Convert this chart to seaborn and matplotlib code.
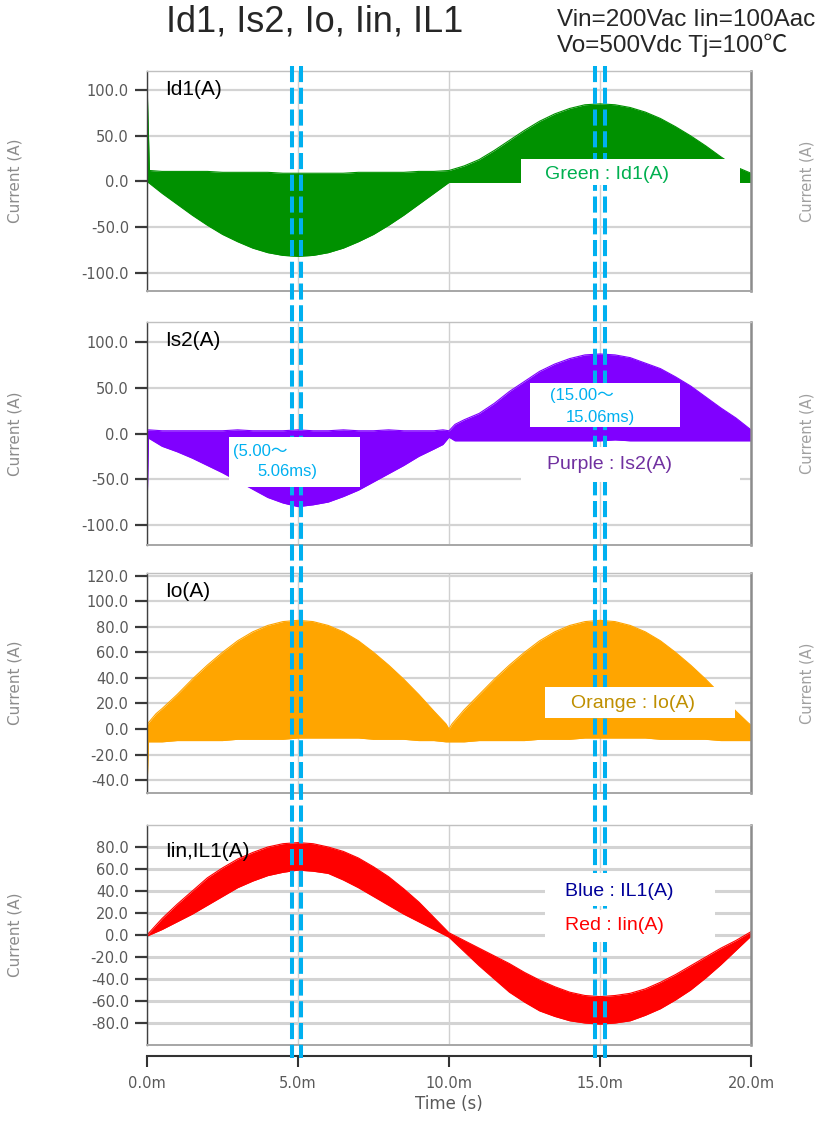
import matplotlib
matplotlib.use("Agg")
import matplotlib.pyplot as plt
import matplotlib.ticker as mticker
from matplotlib.lines import Line2D
from matplotlib.patches import Rectangle
from matplotlib.transforms import blended_transform_factory
import pandas as pd
import seaborn as sns

# Envelopes of the switching waveforms (ms, A) ----
ID1_T = [0, 0.08, 0.5, 1, 1.5, 2, 2.5, 3, 3.5, 4, 4.5, 5, 5.5, 6, 6.5, 7, 7.5, 8, 8.5, 9, 9.5,
         10, 10.5, 11, 11.5, 12, 12.5, 13, 13.5, 14, 14.5, 15, 15.5, 16, 16.5, 17, 17.5, 18,
         18.5, 19, 19.5, 20]
ID1_HI = [110, 12, 11, 11, 11, 11, 10, 10, 10, 10, 9, 9, 9, 9, 9, 10, 10, 10, 10, 11, 11,
          12, 17, 24, 34, 45, 56, 66, 74, 80, 84, 85, 84, 81, 76, 69, 60, 50, 39, 27, 16, 9]
ID1_LO = [0, -2, -13, -25, -37, -48, -58, -66, -73, -78, -81, -82, -81, -78, -73, -66, -58,
          -48, -37, -25, -13, -1, -1, -1, -1, -1, -1, -1, -1, -1, -1, -1, -1, -1, -1, -1, -1,
          -1, -1, -1, -1, -1]

IS2_T = [0, 0.05, 0.5, 1, 1.5, 2, 2.5, 3, 3.5, 4, 4.5, 5, 5.5, 6, 6.5, 7, 7.5, 8, 8.5, 9, 9.5,
         9.8, 10, 10.2, 10.5, 11, 11.5, 12, 12.5, 13, 13.5, 14, 14.5, 15, 15.5, 16, 16.5, 17,
         17.5, 18, 18.5, 19, 19.5, 20]
IS2_HI = [3, 4, 3, 3, 3, 3, 3, 4, 3, 3, 3, 4, 3, 3, 4, 3, 3, 4, 3, 3, 3,
          4, 3, 10, 15, 22, 33, 46, 57, 68, 76, 82, 86, 87, 86, 83, 77, 71, 62, 52, 40, 28, 17, 4]
IS2_LO = [-88, -5, -14, -20, -27, -35, -43, -52, -61, -70, -76, -80, -78, -75, -69, -62, -53,
          -44, -35, -25, -17, -12, -4, -8, -8, -8, -8, -8, -8, -8, -8, -8, -8, -8, -7, -8, -8,
          -8, -8, -8, -8, -8, -8, -8]

IO_T = [0, 0.05, 0.3, 0.5, 1, 1.5, 2, 2.5, 3, 3.5, 4, 4.5, 5, 5.5, 6, 6.5, 7, 7.5, 8, 8.5, 9,
        9.5, 9.9, 10, 10.1, 10.5, 11, 11.5, 12, 12.5, 13, 13.5, 14, 14.5, 15, 15.5, 16, 16.5,
        17, 17.5, 18, 18.5, 19, 19.5, 19.9, 20]
IO_HI = [3, 5, 12, 16, 27, 39, 50, 60, 69, 76, 81, 84, 85, 84, 81, 76, 69, 60, 50, 39, 27, 14,
         4, 0, 4, 15, 27, 39, 50, 60, 69, 76, 81, 84, 85, 84, 81, 76, 69, 60, 50, 39, 27, 14,
         5, 3]
IO_LO = [-48, -10, -10, -10, -9, -9, -9, -9, -8, -8, -8, -8, -7, -7, -7, -7, -7, -8, -8, -8,
         -9, -9, -10, -10, -10, -10, -9, -9, -9, -9, -8, -8, -8, -7, -7, -7, -7, -7, -8, -8,
         -8, -8, -9, -9, -9, -9]

IIN_T = [0, 0.5, 1, 1.5, 2, 2.5, 3, 3.5, 4, 4.5, 5, 5.5, 6, 6.5, 7, 7.5, 8, 8.5, 9, 9.5, 10,
         10.5, 11, 11.5, 12, 12.5, 13, 13.5, 14, 14.5, 15, 15.5, 16, 16.5, 17, 17.5, 18, 18.5,
         19, 19.5, 20]
IIN_HI = [0, 15, 28, 40, 52, 61, 69, 75, 80, 83, 84, 83, 80, 76, 70, 62, 53, 42, 30, 16, 2,
          -5, -12, -19, -26, -34, -41, -47, -52, -55, -56, -55, -53, -49, -43, -36, -28, -20,
          -12, -5, 3]
IIN_LO = [-1, 5, 12, 19, 27, 35, 43, 49, 54, 57, 59, 58, 56, 50, 43, 35, 27, 19, 12, 5, -2,
          -15, -28, -40, -52, -61, -69, -74, -78, -80, -81, -80, -78, -73, -67, -59, -50, -39,
          -27, -14, -1]

CURSOR_MS = [4.80, 5.10, 14.85, 15.17]
X_TICKS = [0, 5, 10, 15, 20]

PANELS = [
    dict(t=ID1_T, hi=ID1_HI, lo=ID1_LO, color="#009100", name="Id1(A)",
         ylim=(-120, 121), yticks=[-100, -50, 0, 50, 100]),
    dict(t=IS2_T, hi=IS2_HI, lo=IS2_LO, color="#8000FF", name="Is2(A)",
         ylim=(-122, 122), yticks=[-100, -50, 0, 50, 100]),
    dict(t=IO_T, hi=IO_HI, lo=IO_LO, color="#FFA500", name="Io(A)",
         ylim=(-50, 122), yticks=[-40, -20, 0, 20, 40, 60, 80, 100, 120]),
    dict(t=IIN_T, hi=IIN_HI, lo=IIN_LO, color="#FF0000", name="Iin,IL1(A)",
         ylim=(-100, 100), yticks=[-80, -60, -40, -20, 0, 20, 40, 60, 80]),
]

# Style ------------------------------------------------------------------------
sns.set_theme(style="white")
plt.rcParams["font.family"] = ["Liberation Sans", "Noto Sans CJK JP", "DejaVu Sans"]

W, H = 817, 1121
fig = plt.figure(figsize=(W / 100, H / 100), dpi=100)

# axes boxes in pixels (top, bottom)
boxes = [(71, 291), (322, 545), (573, 793), (825, 1045)]
left_px, right_px = 147, 751

axes = []
for i, (p, (top, bot)) in enumerate(zip(PANELS, boxes)):
    ax = fig.add_axes([left_px / W, 1 - bot / H, (right_px - left_px) / W, (bot - top) / H])
    axes.append(ax)
    df = pd.DataFrame({"t": p["t"], "hi": p["hi"], "lo": p["lo"]})

    ax.fill_between(df["t"], df["lo"], df["hi"], color=p["color"], lw=0, zorder=2)
    for col in ["hi", "lo"]:
        sns.lineplot(data=df, x="t", y=col, ax=ax, color=p["color"], lw=0.8,
                     estimator=None, sort=False, legend=False, zorder=2)

    ax.set_xlim(0, 20)
    ax.set_ylim(*p["ylim"])
    ax.set_yticks(p["yticks"])
    ax.set_xticks(X_TICKS)
    ax.yaxis.set_major_formatter(mticker.FormatStrFormatter("%.1f"))
    ax.set_axisbelow(True)
    ax.grid(axis="y", color="#d3d3d3", lw=2.2 if i == 3 else 1.6)
    ax.grid(axis="x", color="#d0d0d0", lw=1.0)

    ax.tick_params(axis="y", which="major", direction="out", length=9, width=1.6,
                   color="#3a3a3a", labelsize=10.5, labelcolor="#595959",
                   labelfontfamily="DejaVu Sans", pad=4, left=True)
    ax.set_ylabel("Current (A)", fontsize=11, color="#8c8c8c", family="DejaVu Sans")
    ax.yaxis.set_label_coords(-(left_px - 22) / (right_px - left_px), 0.5)
    ax.set_xlabel("")

    ax.spines["left"].set_color("#404040")
    ax.spines["left"].set_linewidth(1.0)
    ax.spines["top"].set_color("#c0c0c0")
    ax.spines["top"].set_linewidth(1.0)
    ax.spines["right"].set_color("#8c8c8c")
    ax.spines["right"].set_linewidth(1.8)
    ax.spines["bottom"].set_color("#a6a6a6")
    ax.spines["bottom"].set_linewidth(1.4)

    ax.text(0.03, 0.915 if i < 3 else 0.88, p["name"], transform=ax.transAxes,
            fontsize=15, color="black", va="center", ha="left", zorder=6)

    if i < 3:
        ax.tick_params(axis="x", length=0, labelbottom=False)

# bottom time axis, pulled below the last panel
ax4 = axes[-1]
ax4.plot([0, 1], [0, 0], transform=ax4.transAxes, color="#a6a6a6", lw=1.4,
         clip_on=False, zorder=3)
ax4.spines["bottom"].set_position(("outward", 8))
ax4.spines["bottom"].set_color("#333333")
ax4.spines["bottom"].set_linewidth(1.5)
ax4.xaxis.set_major_formatter(mticker.FuncFormatter(lambda v, p: f"{v:.1f}m"))
ax4.tick_params(axis="x", direction="out", length=8, width=1.5, color="#333333",
                labelsize=10.5, labelcolor="#595959", labelfontfamily="DejaVu Sans",
                pad=6, bottom=True)
ax4.set_xlabel("Time (s)", fontsize=12, color="#595959", family="DejaVu Sans", labelpad=3)

# cursor pairs, dashed, spanning all panels
tr = blended_transform_factory(ax4.transData, fig.transFigure)
for x in CURSOR_MS:
    fig.add_artist(Line2D([x, x], [1 - 66 / H, 1 - 1058 / H], transform=tr,
                          color="#00B0F0", lw=2.9, ls=(0, (4, 1.4)), zorder=4))


# white label boxes sitting above the cursors
def label_box(ax, x0, x1, y0, y1):
    fig.add_artist(Rectangle((x0, y0), x1 - x0, y1 - y0, transform=ax.transData,
                             facecolor="white", edgecolor="none", zorder=5))


def label_text(ax, x, y, s, color, size=14, ha="center"):
    fig.text(x, y, s, transform=ax.transData, color=color, fontsize=size,
             ha=ha, va="center", zorder=6)


a1, a2, a3, a4 = axes
label_box(a1, 12.38, 19.64, -4.4, 24.2)
label_text(a1, 15.23, 8.0, "Green : Id1(A)", "#00B050")

label_box(a2, 2.72, 7.05, -58.8, -3.8)
label_text(a2, 2.85, -19.5, "(5.00～", "#00B0F0", size=12, ha="left")
label_text(a2, 3.65, -42.0, "5.06ms)", "#00B0F0", size=12, ha="left")
label_box(a2, 12.68, 17.65, 7.1, 55.2)
label_text(a2, 13.35, 42.0, "(15.00～", "#00B0F0", size=12, ha="left")
label_text(a2, 13.87, 17.0, "15.06ms)", "#00B0F0", size=12, ha="left")
label_box(a2, 12.38, 19.64, -53.0, -15.0)
label_text(a2, 15.33, -34.4, "Purple : Is2(A)", "#7030A0")

label_box(a3, 13.18, 19.47, 8.4, 32.6)
label_text(a3, 16.1, 20.0, "Orange : Io(A)", "#BF8F00")

label_box(a4, 13.18, 18.80, 26.5, 56.0)
label_box(a4, 13.18, 18.80, -6.0, 22.5)
label_text(a4, 13.84, 39.5, "Blue : IL1(A)", "#000099", ha="left")
label_text(a4, 13.84, 9.0, "Red : Iin(A)", "#FF0000", ha="left")

# headings
fig.text(315 / W, 1 - 22 / H, "Id1, Is2, Io, Iin, IL1", fontsize=26, ha="center", va="center")
fig.text(557 / W, 1 - 20 / H, "Vin=200Vac Iin=100Aac", fontsize=17.5, ha="left", va="center")
fig.text(557 / W, 1 - 45 / H, "Vo=500Vdc Tj=100℃", fontsize=17.5, ha="left", va="center")

# axis labels of the neighbouring chart on the right edge
for top, bot in boxes[:3]:
    fig.text(807 / W, 1 - (top + bot) / 2 / H, "Current (A)", rotation=90, fontsize=10.5,
             color="#a0a0a0", family="DejaVu Sans", ha="center", va="center")

fig.savefig("out.png", dpi=100)
